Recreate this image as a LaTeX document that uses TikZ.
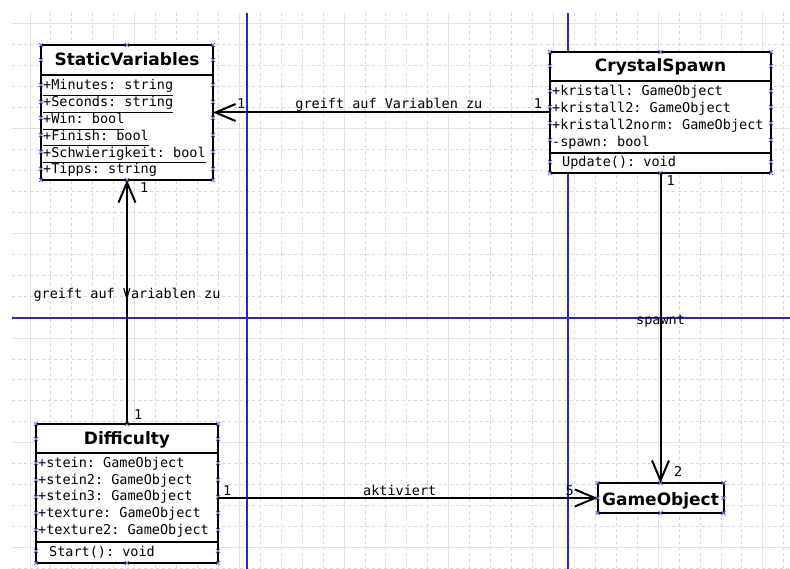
\documentclass[tikz,border=0pt]{standalone}
\usepackage{fontspec}
\setmainfont{DejaVu Sans}
\setmonofont{DejaVu Sans Mono}
\usetikzlibrary{arrows.meta}

\definecolor{gridmajor}{RGB}{218,230,230}
\definecolor{gridminor}{RGB}{206,220,220}
\definecolor{pageline}{RGB}{40,40,190}
\definecolor{handle}{RGB}{110,110,230}

% static members are underlined
\newcommand{\ulined}[1]{\setbox0\hbox{#1}\rlap{\rule[-6pt]{\wd0}{1pt}}\box0}

\begin{document}
\begin{tikzpicture}[x=1pt,y=-1pt]
  \tikzstyle{classbox}=[draw,fill=white,line width=2pt,inner sep=0pt,outer sep=0pt]
  \tikzstyle{classtitle}=[font=\bfseries\fontsize{17}{20}\selectfont,inner sep=0pt,anchor=base]
  \tikzstyle{member}=[font=\ttfamily\fontsize{13.5}{16}\selectfont,inner sep=0pt,anchor=base west]
  \tikzstyle{mult}=[font=\ttfamily\fontsize{13.5}{16}\selectfont,inner sep=0pt]
  \tikzstyle{compline}=[line width=2pt]
  \tikzstyle{relation}=[line width=2pt,-{Straight Barb[length=20pt,width=17pt]}]
  \tikzstyle{hmark}=[draw=handle,line width=0.8pt]

  \useasboundingbox (0,0) rectangle (790,569);

  % Raster
  \foreach \i in {0,...,36}
    \draw[gridminor,line width=1pt,dash pattern=on 3pt off 3pt] (30+20.94*\i,13) -- (30+20.94*\i,569);
  \foreach \j in {0,...,26}
    \draw[gridminor,line width=1pt,dash pattern=on 3pt off 3pt] (12,24+20.94*\j) -- (790,24+20.94*\j);
  \foreach \m in {0,...,7}
    \draw[gridmajor,line width=1pt] (30+104.7*\m,13) -- (30+104.7*\m,569);
  \foreach \m in {0,...,5}
    \draw[gridmajor,line width=1pt] (12,24+104.7*\m) -- (790,24+104.7*\m);

  % Seitenraender
  \draw[pageline,line width=1.2pt] (247,13) -- (247,569);
  \draw[pageline,line width=1.2pt] (568,13) -- (568,569);
  \draw[pageline,line width=1.2pt] (12,318) -- (790,318);

  % StaticVariables
  \node[classbox,minimum width=172pt,minimum height=135pt] (static) at (127,112.5) {};
  \node[classtitle] (static-title) at ([yshift=-20.5pt]static.north) {StaticVariables};
  \draw[compline] ([yshift=-30pt]static.north west) -- ([yshift=-30pt]static.north east);
  \foreach \t [count=\i] in {+Minutes: string, +Seconds: string, +Win: bool, +Finish: bool, +Schwierigkeit: bool, +Tipps: string}
    \node[member] (static-m\i) at ([xshift=2pt,yshift={-45pt-16.8pt*(\i-1)}]static.north west) {\ulined{\t}};

  % CrystalSpawn
  \node[classbox,minimum width=221pt,minimum height=121pt] (crystal) at (660.5,112.5) {};
  \node[classtitle] (crystal-title) at ([yshift=-19.5pt]crystal.north) {CrystalSpawn};
  \draw[compline] ([yshift=-29pt]crystal.north west) -- ([yshift=-29pt]crystal.north east);
  \draw[compline] ([yshift=-101pt]crystal.north west) -- ([yshift=-101pt]crystal.north east);
  \foreach \t [count=\i] in {+kristall: GameObject, +kristall2: GameObject, +kristall2norm: GameObject, -spawn: bool}
    \node[member] (crystal-m\i) at ([xshift=2pt,yshift={-44pt-16.7pt*(\i-1)}]crystal.north west) {\t};
  \node[member] (crystal-op) at ([xshift=12pt,yshift=-114.7pt]crystal.north west) {Update(): void};

  % Difficulty
  \node[classbox,minimum width=182pt,minimum height=139pt] (diff) at (127,493.5) {};
  \node[classtitle] (diff-title) at ([yshift=-20.3pt]diff.north) {Difficulty};
  \draw[compline] ([yshift=-29pt]diff.north west) -- ([yshift=-29pt]diff.north east);
  \draw[compline] ([yshift=-118pt]diff.north west) -- ([yshift=-118pt]diff.north east);
  \foreach \t [count=\i] in {+stein: GameObject, +stein2: GameObject, +stein3: GameObject, +texture: GameObject, +texture2: GameObject}
    \node[member] (diff-m\i) at ([xshift=2pt,yshift={-43.3pt-16.7pt*(\i-1)}]diff.north west) {\t};
  \node[member] (diff-op) at ([xshift=13pt,yshift=-132pt]diff.north west) {Start(): void};

  % GameObject
  \node[classbox,minimum width=126pt,minimum height=30pt,font=\bfseries\fontsize{17}{20}\selectfont,text height=15pt,text depth=0pt] (gobj) at (660.5,498) {GameObject};

  % Anfasspunkte
  \foreach \p in {static,crystal,diff,gobj}
    \foreach \a in {north west,north,north east,south west,south,south east}
      \draw[hmark] (\p.\a) +(-2,-2) -- +(2,2) +(-2,2) -- +(2,-2);
  \foreach \p/\ys in {static/{60,85,102,118,135,152,169}, crystal/{66,91,107,123,140,162}, diff/{439,463,480,497,513,530,551}, gobj/{498}}
    \foreach \y in \ys {
      \draw[hmark] (\p.west |- 0,\y) +(-2,-2) -- +(2,2) +(-2,2) -- +(2,-2);
      \draw[hmark] (\p.east |- 0,\y) +(-2,-2) -- +(2,2) +(-2,2) -- +(2,-2);
    }

  % Relationen
  \draw[relation] (crystal.west) -- node[mult,pos=.478,anchor=base,yshift=3.5pt] {greift auf Variablen zu}
    node[mult,pos=0,anchor=base east,xshift=-7pt,yshift=3.5pt] {1}
    node[mult,pos=1,anchor=base west,xshift=23pt,yshift=3.5pt] {1} (static.east);
  \draw[relation] (diff.north) -- node[mult,pos=.515,anchor=base] {greift auf Variablen zu}
    node[mult,pos=0,anchor=base west,xshift=6pt,yshift=4.7pt] {1}
    node[mult,pos=1,anchor=base west,xshift=12pt,yshift=-13pt] {1} (static.south);
  \draw[relation] (crystal.south) -- node[mult,pos=.488,anchor=base] {spawnt}
    node[mult,pos=0,anchor=base west,xshift=5pt,yshift=-13pt] {1}
    node[mult,pos=1,anchor=base west,xshift=12.7pt,yshift=6.3pt] {2} (gobj.north);
  \draw[relation] (diff.east |- gobj.west) -- node[mult,pos=.479,anchor=base,yshift=2.5pt] {aktiviert}
    node[mult,pos=0,anchor=base west,xshift=4pt,yshift=2.5pt] {1}
    node[mult,pos=1,anchor=base east,xshift=-22.7pt,yshift=2.5pt] {5} (gobj.west);
\end{tikzpicture}
\end{document}
